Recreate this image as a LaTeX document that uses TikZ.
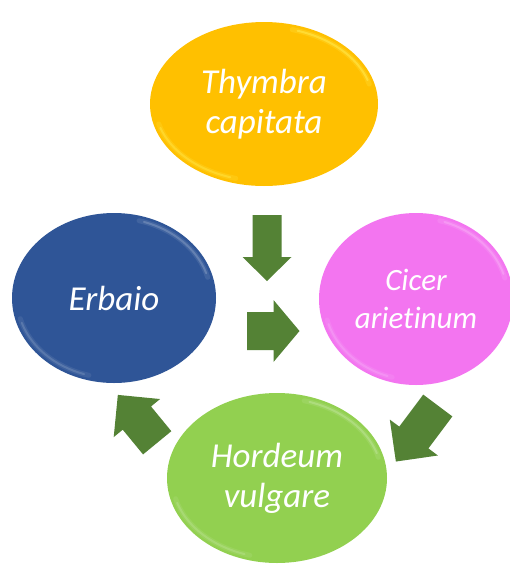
\documentclass[tikz,border=0pt]{standalone}
\usepackage{fontspec}
\setmainfont{Carlito}[Ligatures=NoCommon]
\usetikzlibrary{shapes.geometric}
\definecolor{cyel}{HTML}{FFC000}
\definecolor{cblue}{HTML}{2F5597}
\definecolor{cpink}{HTML}{F375F0}
\definecolor{cgreen}{HTML}{92D050}
\definecolor{agreen}{HTML}{548235}
\newcommand{\blockarr}[6]{% tail (x,y), angle, length, half shaft, half head, head length
  \begin{scope}[shift={#1}, rotate=#2]
    \fill[agreen] (0,-#4) -- ({#3-#6},-#4) -- ({#3-#6},-#5) -- (#3,0) -- ({#3-#6},#5) -- ({#3-#6},#4) -- (0,#4) -- cycle;
  \end{scope}}
\newcommand{\hilite}[4]{% center, rx, ry, colour
  \draw[#4, line width=5pt, opacity=0.18, line cap=round] #1 ++(-75:{#2-5} and {#3-5}) arc[start angle=-75, end angle=-15, x radius={#2-5}, y radius={#3-5}];
  \draw[#4, line width=2pt, opacity=0.4, line cap=round] #1 ++(-72:{#2-5} and {#3-5}) arc[start angle=-72, end angle=-18, x radius={#2-5}, y radius={#3-5}];
  \draw[#4, line width=5pt, opacity=0.15, line cap=round] #1 ++(105:{#2-5} and {#3-5}) arc[start angle=105, end angle=165, x radius={#2-5}, y radius={#3-5}];
  \draw[#4, line width=2pt, opacity=0.3, line cap=round] #1 ++(108:{#2-5} and {#3-5}) arc[start angle=108, end angle=162, x radius={#2-5}, y radius={#3-5}];}
\begin{document}
\begin{tikzpicture}[x=1pt,y=-1pt,
  blob/.style={ellipse, inner sep=0pt, text=white, align=center,
    font=\itshape\fontsize{35}{40}\selectfont},
  small/.style={font=\itshape\fontsize{31}{38}\selectfont}]
\useasboundingbox[fill=white] (0,0) rectangle (510,568);
\node[blob, fill=cyel, minimum width=228pt, minimum height=164pt] (thy) at (264,104) {Thymbra\\capitata};
\node[blob, fill=cblue, minimum width=204pt, minimum height=170pt] (erb) at (114,298) {Erbaio};
\node[blob, small, fill=cpink, minimum width=194pt, minimum height=172pt] (cic) at (416,299) {Cicer\\arietinum};
\node[blob, fill=cgreen, minimum width=220pt, minimum height=170pt] (hor) at (277,478) {Hordeum\\vulgare};
\hilite{(264,104)}{114}{82}{yellow!60!white}
\hilite{(114,298)}{102}{85}{cblue!50!white}
\hilite{(416,299)}{97}{86}{cpink!50!white}
\hilite{(277,478)}{110}{85}{cgreen!50!white}
\blockarr{(267,215)}{-90}{66}{14.5}{24.5}{24}
\blockarr{(247,331)}{0}{52.5}{19}{31}{26}
\blockarr{(437.8,405.5)}{233.2}{70}{18.2}{30}{30}
\blockarr{(157.2,442.8)}{129.4}{62}{18.3}{30}{30}
\end{tikzpicture}
\end{document}
